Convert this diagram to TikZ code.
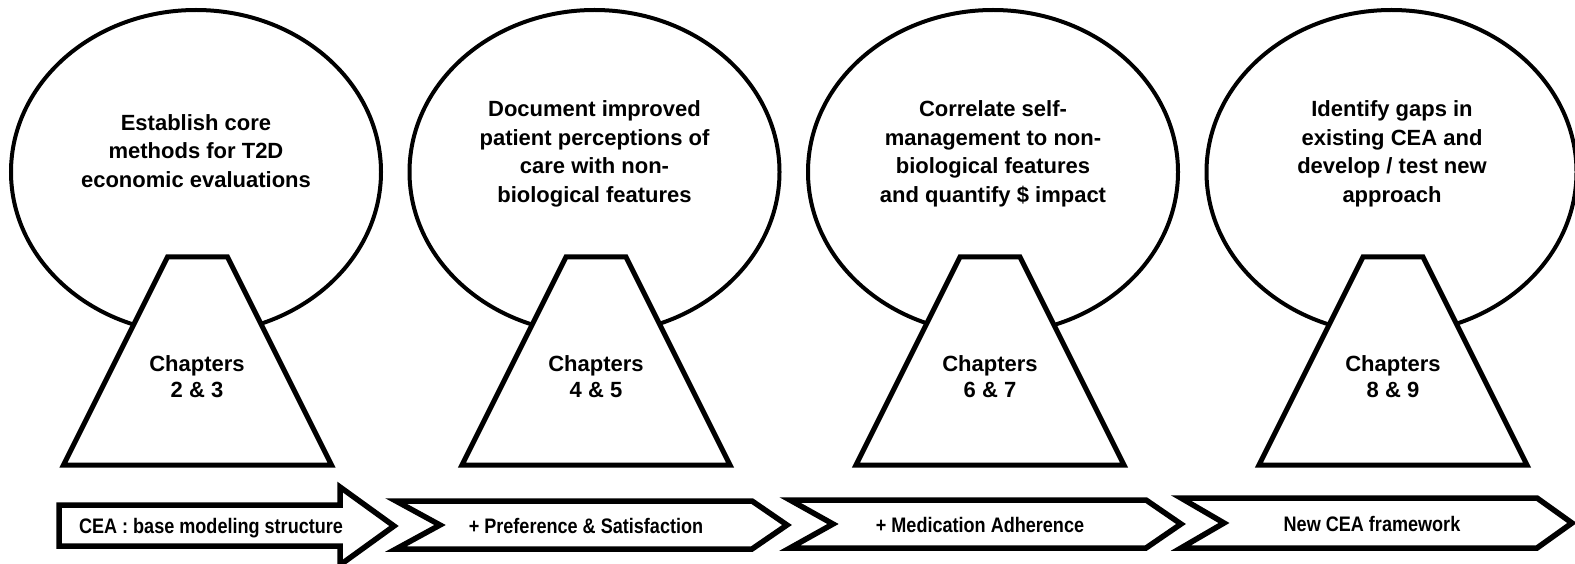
\documentclass[tikz,border=0pt]{standalone}
\usepackage{fontspec}
\setmainfont{Liberation Sans}
\usetikzlibrary{shapes.geometric}
\tikzset{
  bubble/.style={draw, line width=4pt, ellipse, minimum width=370pt, minimum height=324pt, inner sep=0pt},
  trap/.style={draw, line width=5pt, fill=white, line join=miter},
  goal/.style={font=\fontsize{22}{28.5}\selectfont\bfseries, align=center, inner sep=0pt},
  chap/.style={font=\fontsize{22}{26}\selectfont\bfseries, align=center, inner sep=0pt},
  chev/.style={draw, line width=5.5pt, fill=white, line join=miter},
  band/.style={font=\fontsize{21}{24}\selectfont\bfseries, inner sep=0pt, anchor=base},
}
\newcommand{\narrow}[1]{\scalebox{0.86}[1]{#1}}
\begin{document}
\begin{tikzpicture}[x=1pt,y=-1pt]
\useasboundingbox (0,0) rectangle (1575,564);

% ellipses
\node[bubble] (e1) at (196,172) {};
\node[bubble] (e2) at (594.5,172) {};
\node[bubble] (e3) at (993,172) {};
\node[bubble] (e4) at (1391.5,172) {};

% trapezoids
\draw[trap] (167.5,257) -- (227.5,257) -- (331.5,465) -- (63.5,465) -- cycle;
\draw[trap] (566,257) -- (626,257) -- (730,465) -- (462,465) -- cycle;
\draw[trap] (960,257) -- (1020,257) -- (1124,465) -- (856,465) -- cycle;
\draw[trap] (1363,257) -- (1423,257) -- (1527,465) -- (1259,465) -- cycle;

% texts in ellipses
\node[goal] (g1) at (196,151) {Establish core\\methods for T2D\\economic evaluations};
\node[goal] (g2) at (594.5,154) {Document improved\\patient perceptions of\\care with non-\\biological features};
\node[goal] (g3) at (993,154) {Correlate self-\\management to non-\\biological features\\and quantify \$ impact};
\node[goal] (g4) at (1392,154) {Identify gaps in\\existing CEA and\\develop / test new\\approach};

% chapter labels
\node[chap] (c1) at (197,377) {Chapters\\2 \& 3};
\node[chap] (c2) at (596,377) {Chapters\\4 \& 5};
\node[chap] (c3) at (990,377) {Chapters\\6 \& 7};
\node[chap] (c4) at (1393,377) {Chapters\\8 \& 9};

% bottom band
\draw[chev] (59,505) -- (340,505) -- (340,487) -- (394,526) -- (340,565) -- (340,546) -- (59,546) -- cycle;
\draw[chev] (396,501) -- (752,501) -- (787,525) -- (752,549) -- (396,549) -- (440,525) -- cycle;
\draw[chev] (790,500) -- (1146,500) -- (1181,524) -- (1146,548) -- (790,548) -- (833,524) -- cycle;
\draw[chev] (1181,498) -- (1537,498) -- (1572,523) -- (1537,548) -- (1181,548) -- (1224,523) -- cycle;

\node[band] (b1) at (211,533) {\narrow{CEA : base modeling structure}};
\node[band] (b2) at (586,533) {\narrow{+ Preference \& Satisfaction}};
\node[band] (b3) at (980,532) {\narrow{+ Medication Adherence}};
\node[band] (b4) at (1372,531) {\narrow{New CEA framework}};
\end{tikzpicture}
\end{document}
